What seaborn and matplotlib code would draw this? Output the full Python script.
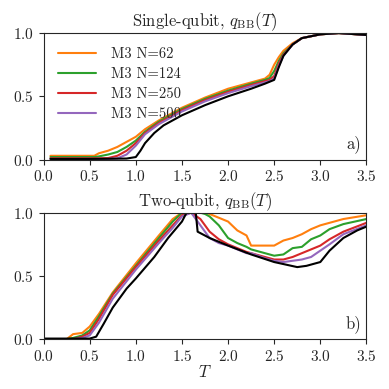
import numpy as np
import pandas as pd
import matplotlib
matplotlib.use("Agg")
import matplotlib.pyplot as plt
import seaborn as sns

# ---- single-qubit panel (a) ----
T_a_ref = [0.075, 0.5, 0.9, 1.0, 1.05, 1.1, 1.2, 1.3, 1.5, 1.75, 2.0, 2.25, 2.4, 2.5, 2.55, 2.6, 2.7, 2.8, 3.0, 3.2, 3.5]
q_a_ref = [0.005, 0.005, 0.008, 0.02, 0.07, 0.13, 0.21, 0.27, 0.35, 0.43, 0.5, 0.56, 0.6, 0.63, 0.73, 0.82, 0.91, 0.96, 0.99, 1.0, 0.985]

T_a = [0.075, 0.55, 0.6, 0.7, 0.8, 0.9, 1.0, 1.1, 1.25, 1.5, 1.75, 2.0, 2.25, 2.4, 2.45, 2.5, 2.55, 2.6, 2.7, 2.8, 3.0, 3.2, 3.5]
q_a_62 = [0.03, 0.03, 0.05, 0.07, 0.1, 0.14, 0.18, 0.24, 0.31, 0.41, 0.49, 0.56, 0.61, 0.64, 0.67, 0.75, 0.81, 0.86, 0.92, 0.96, 0.99, 1.0, 0.985]
q_a_124 = [0.02, 0.02, 0.025, 0.04, 0.06, 0.1, 0.15, 0.22, 0.3, 0.4, 0.48, 0.545, 0.6, 0.63, 0.645, 0.7, 0.78, 0.84, 0.91, 0.96, 0.99, 1.0, 0.985]
q_a_250 = [0.01, 0.01, 0.01, 0.012, 0.03, 0.07, 0.13, 0.21, 0.29, 0.39, 0.47, 0.535, 0.59, 0.62, 0.63, 0.66, 0.76, 0.83, 0.91, 0.96, 0.99, 1.0, 0.985]
q_a_500 = [0.005, 0.005, 0.005, 0.005, 0.01, 0.04, 0.11, 0.2, 0.28, 0.38, 0.46, 0.525, 0.58, 0.61, 0.62, 0.64, 0.74, 0.82, 0.91, 0.96, 0.99, 1.0, 0.985]

# ---- two-qubit panel (b) ----
T_b_ref = [0.0, 0.5, 0.57, 0.65, 0.75, 0.9, 1.0, 1.2, 1.35, 1.5, 1.55, 1.65, 1.67, 1.8, 2.0, 2.25, 2.5, 2.75, 2.85, 3.0, 3.1, 3.25, 3.4, 3.5]
q_b_ref = [0.005, 0.005, 0.02, 0.12, 0.25, 0.4, 0.48, 0.65, 0.8, 0.93, 1.0, 1.0, 0.85, 0.8, 0.74, 0.67, 0.61, 0.57, 0.58, 0.61, 0.7, 0.8, 0.86, 0.89]

T_b = [0.075, 0.25, 0.32, 0.42, 0.5, 0.6, 0.75, 1.0, 1.25, 1.4, 1.5, 1.6, 1.7, 1.75, 1.8, 1.9, 2.0, 2.1, 2.2, 2.25, 2.4, 2.5, 2.6, 2.7, 2.8, 2.9, 3.0, 3.1, 3.25, 3.5]
q_b_62 = [0.0, 0.0, 0.04, 0.05, 0.1, 0.2, 0.37, 0.6, 0.82, 0.95, 1.0, 1.0, 1.0, 1.0, 0.99, 0.96, 0.93, 0.86, 0.82, 0.74, 0.74, 0.74, 0.78, 0.8, 0.83, 0.87, 0.9, 0.92, 0.95, 0.98]
q_b_124 = [0.0, 0.0, 0.01, 0.03, 0.07, 0.18, 0.36, 0.58, 0.8, 0.93, 1.0, 1.0, 1.0, 0.99, 0.97, 0.9, 0.8, 0.76, 0.73, 0.71, 0.68, 0.66, 0.67, 0.72, 0.73, 0.79, 0.82, 0.87, 0.91, 0.95]
q_b_250 = [0.0, 0.0, 0.0, 0.02, 0.05, 0.16, 0.35, 0.57, 0.78, 0.9, 0.98, 1.0, 0.95, 0.9, 0.85, 0.79, 0.75, 0.72, 0.69, 0.68, 0.65, 0.63, 0.63, 0.65, 0.68, 0.71, 0.74, 0.79, 0.85, 0.92]
q_b_500 = [0.0, 0.0, 0.0, 0.01, 0.03, 0.13, 0.32, 0.55, 0.76, 0.88, 0.97, 1.0, 0.9, 0.85, 0.8, 0.76, 0.74, 0.71, 0.68, 0.68, 0.64, 0.62, 0.61, 0.62, 0.63, 0.65, 0.7, 0.75, 0.83, 0.9]

labels = ["M3 N=62", "M3 N=124", "M3 N=250", "M3 N=500"]
colors = ["#ff7f0e", "#2ca02c", "#d62728", "#9467bd"]


def long_table(T, series):
    frames = [pd.DataFrame({"T": T, "q": s, "run": lab}) for lab, s in zip(labels, series)]
    return pd.concat(frames, ignore_index=True)


df_a = long_table(T_a, [q_a_62, q_a_124, q_a_250, q_a_500])
df_b = long_table(T_b, [q_b_62, q_b_124, q_b_250, q_b_500])

sns.set_style("ticks")
plt.rcParams["font.family"] = "serif"
plt.rcParams["font.serif"] = ["cmr10", "DejaVu Serif"]
plt.rcParams["mathtext.fontset"] = "cm"
plt.rcParams["axes.formatter.use_mathtext"] = True
plt.rcParams["axes.unicode_minus"] = False

fig, (ax1, ax2) = plt.subplots(2, 1, figsize=(3.89, 3.89), dpi=100)
fig.subplots_adjust(left=0.112, right=0.942, top=0.915, bottom=0.128, hspace=0.42)

palette = dict(zip(labels, colors))

# panel a
sns.lineplot(data=df_a, x="T", y="q", hue="run", palette=palette, ax=ax1, lw=1.5, legend=True)
ax1.plot(T_a_ref, q_a_ref, color="black", lw=1.5)
ax1.set_title(r"Single-qubit, $q_{\rm BB}(T)$", fontsize=12, pad=4)
ax1.legend(title=None, loc="upper left", frameon=False, fontsize=10.5, handlelength=2.6,
           handletextpad=1.0, borderaxespad=0.6, labelspacing=0.42)
ax1.text(0.985, 0.05, "a)", transform=ax1.transAxes, ha="right", va="bottom", fontsize=12)

# panel b
sns.lineplot(data=df_b, x="T", y="q", hue="run", palette=palette, ax=ax2, lw=1.5, legend=False)
ax2.plot(T_b_ref, q_b_ref, color="black", lw=1.5)
ax2.set_title(r"Two-qubit, $q_{\rm BB}(T)$", fontsize=12, pad=4)
ax2.text(0.985, 0.05, "b)", transform=ax2.transAxes, ha="right", va="bottom", fontsize=12)

for ax in (ax1, ax2):
    ax.set_xlim(0, 3.5)
    ax.set_ylim(0, 1.0)
    ax.set_xticks([0.0, 0.5, 1.0, 1.5, 2.0, 2.5, 3.0, 3.5])
    ax.set_yticks([0.0, 0.5, 1.0])
    ax.set_ylabel("")
    ax.set_xlabel("")
    ax.tick_params(labelsize=11, length=3.5, width=0.8)
    for sp in ax.spines.values():
        sp.set_linewidth(0.8)

ax2.set_xlabel(r"$T$", fontsize=12, labelpad=0)

fig.savefig("out.png", dpi=100)
